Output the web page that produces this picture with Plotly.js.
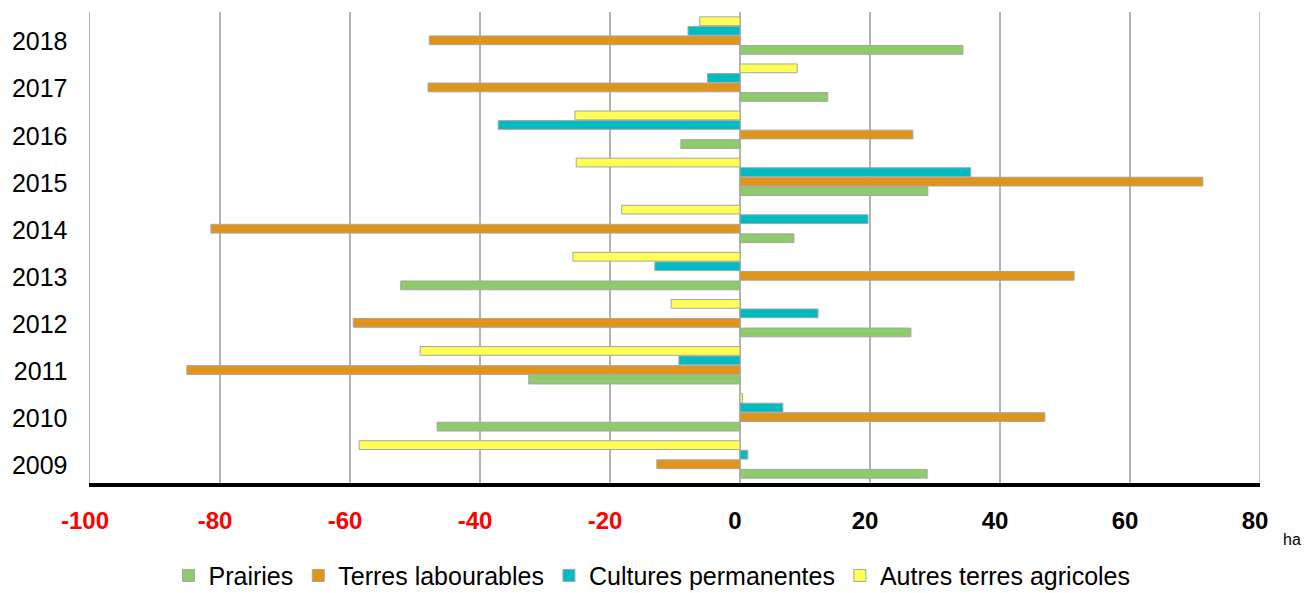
<!DOCTYPE html>
<html>
<head>
<meta charset="utf-8">
<script src="https://cdn.plot.ly/plotly-3.0.1.min.js"></script>
<style>
  html, body { margin: 0; padding: 0; background: #ffffff; }
  #chart { width: 1304px; height: 593px; }
</style>
</head>
<body>
<div id="chart"></div>
<script>
const years = ['2009', '2010', '2011', '2012', '2013', '2014', '2015', '2016', '2017', '2018'];
const prairies = [28.8, -46.6, -32.5, 26.3, -52.2, 8.3, 28.9, -9.1, 13.5, 34.3];
const terresLabourables = [-12.8, 46.9, -85.1, -59.5, 51.4, -81.4, 71.2, 26.6, -48.0, -47.8];
const culturesPermanentes = [1.2, 6.6, -9.4, 12.0, -13.1, 19.7, 35.5, -37.2, -5.0, -8.0];
const autresTerres = [-58.6, 0.4, -49.2, -10.6, -25.7, -18.2, -25.2, -25.4, 8.8, -6.2];

const seriesNames = ['Prairies', 'Terres labourables', 'Cultures permanentes', 'Autres terres agricoles'];
const seriesColors = ['#8DCB6B', '#E0951A', '#00BCC2', '#FFFF55'];

const xTickVals = [-100, -80, -60, -40, -20, 0, 20, 40, 60, 80];
const xTickText = xTickVals.map(v => v < 0 ? '<span style="color:#ff0000">' + v + '</span>' : String(v));

const seriesValues = [prairies, terresLabourables, culturesPermanentes, autresTerres];

const traces = seriesValues.map((vals, i) => ({
  type: 'bar',
  orientation: 'h',
  name: seriesNames[i],
  y: years,
  x: vals,
  marker: { color: seriesColors[i], line: { color: '#a6a6a6', width: 1 } },
  hoverinfo: 'skip'
}));

const layout = {
  width: 1304,
  height: 593,
  margin: { l: 90, r: 44, t: 12, b: 110 },
  paper_bgcolor: '#ffffff',
  plot_bgcolor: '#ffffff',
  font: { family: 'Liberation Sans, Arial, sans-serif', color: '#000000' },
  barmode: 'group',
  bargap: 0.19,
  bargroupgap: 0.08,
  showlegend: true,
  legend: {
    orientation: 'h',
    xref: 'container', yref: 'container',
    x: 0.5, xanchor: 'center',
    y: 0.068, yanchor: 'top',
    font: { size: 25, color: '#000000' },
    traceorder: 'normal',
    itemclick: false
  },
  xaxis: {
    range: [-100, 80],
    tickvals: xTickVals,
    ticktext: xTickText,
    tickfont: { size: 24, color: '#000000', weight: 'bold' },
    ticklabelstandoff: 13,
    ticklabelshift: -5,
    showgrid: true,
    gridcolor: '#b3b3b3',
    gridwidth: 1.5,
    zeroline: false,
    showline: true,
    linecolor: '#000000',
    linewidth: 4,
    ticks: '',
    fixedrange: true
  },
  yaxis: {
    type: 'category',
    categoryorder: 'array',
    categoryarray: years,
    tickfont: { size: 25, color: '#000000' },
    ticks: '',
    ticklabelstandoff: 16,
    ticklabelshift: 6,
    showgrid: false,
    zeroline: false,
    showline: true,
    linecolor: '#b3b3b3',
    linewidth: 1.5,
    fixedrange: true
  },
  shapes: [{
    type: 'line', xref: 'x', yref: 'paper',
    x0: 80, x1: 80, y0: 0, y1: 1,
    line: { color: '#b3b3b3', width: 1.5 },
    layer: 'below'
  }],
  annotations: [{
    text: 'ha',
    xref: 'paper', yref: 'paper',
    x: 1.027, y: -0.121,
    xanchor: 'center', yanchor: 'middle',
    showarrow: false,
    font: { size: 16, color: '#000000' }
  }]
};

Plotly.newPlot('chart', traces, layout, { staticPlot: true, displayModeBar: false });
</script>
</body>
</html>
